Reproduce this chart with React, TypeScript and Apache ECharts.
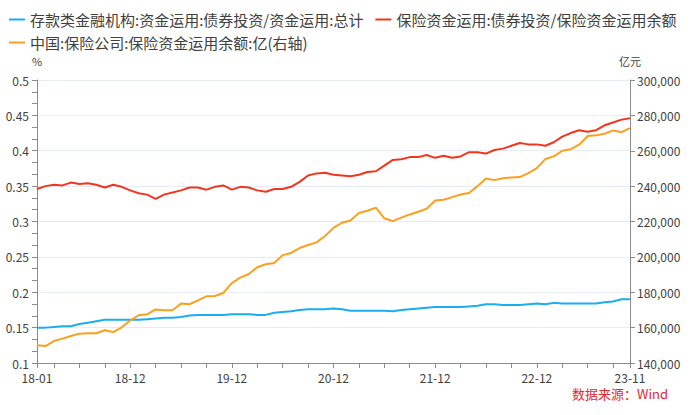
import { useEffect, useRef } from 'react'
import * as echarts from 'echarts'

// 月份类目 18-01 ~ 23-11
const months: string[] = []
for (let y = 18; y <= 23; y++) {
  for (let m = 1; m <= 12; m++) {
    if (y === 23 && m > 11) break
    months.push(`${y}-${String(m).padStart(2, '0')}`)
  }
}

const labelIndexes = [0, 11, 23, 35, 47, 59, 70]

const seriesNames = [
  '存款类金融机构:资金运用:债券投资/资金运用:总计',
  '保险资金运用:债券投资/保险资金运用余额',
  '中国:保险公司:保险资金运用余额:亿(右轴)'
]

// 存款类金融机构 债券投资占比 (%)
const depositBondRatio = [
  0.150, 0.150, 0.151, 0.152, 0.152, 0.155, 0.157, 0.159, 0.161, 0.161,
  0.161, 0.161, 0.161, 0.162, 0.163, 0.164, 0.164, 0.165, 0.167, 0.168,
  0.168, 0.168, 0.168, 0.169, 0.169, 0.169, 0.168, 0.168, 0.171, 0.172,
  0.173, 0.175, 0.176, 0.176, 0.176, 0.177, 0.176, 0.174, 0.174, 0.174,
  0.174, 0.174, 0.173, 0.175, 0.176, 0.177, 0.178, 0.179, 0.179, 0.179,
  0.179, 0.180, 0.181, 0.183, 0.183, 0.182, 0.182, 0.182, 0.183, 0.184,
  0.183, 0.185, 0.184, 0.184, 0.184, 0.184, 0.184, 0.186, 0.187, 0.190,
  0.190
]

// 保险资金 债券投资占比 (%)
const insuranceBondRatio = [
  0.346, 0.350, 0.352, 0.351, 0.355, 0.353, 0.354, 0.352, 0.348, 0.352,
  0.349, 0.344, 0.340, 0.338, 0.332, 0.338, 0.341, 0.344, 0.348, 0.348,
  0.345, 0.349, 0.351, 0.345, 0.349, 0.348, 0.344, 0.342, 0.346, 0.346,
  0.349, 0.356, 0.365, 0.368, 0.369, 0.366, 0.365, 0.364, 0.366, 0.370,
  0.371, 0.379, 0.387, 0.388, 0.391, 0.391, 0.394, 0.390, 0.393, 0.390,
  0.392, 0.398, 0.398, 0.396, 0.401, 0.403, 0.407, 0.411, 0.409, 0.409,
  0.407, 0.412, 0.420, 0.425, 0.429, 0.427, 0.429, 0.436, 0.440, 0.444,
  0.446
]

// 保险资金运用余额 (亿元, 右轴)
const insuranceBalance = [
  150000, 149600, 152400, 153800, 155300, 156600, 156800, 156800, 158500, 157500,
  160200, 164000, 167000, 167500, 170300, 169800, 169800, 173600, 173200, 175400,
  177700, 177900, 179600, 185200, 188300, 190300, 194100, 195800, 196500, 201000,
  202200, 205000, 206700, 208200, 211800, 216400, 219300, 220600, 224800, 226100,
  227800, 221800, 220200, 222200, 224000, 225500, 227200, 231900, 232300, 233800,
  235300, 236100, 240000, 244300, 243400, 244400, 244900, 245100, 247400, 250200,
  255300, 256800, 260000, 260900, 263400, 268300, 268700, 269600, 271500, 270500,
  272800
]

const colors = ['#1AAEF0', '#F2361E', '#FBA01D']
const font = '"Noto Sans CJK SC", "Noto Sans", sans-serif'
const axisColor = '#8c8c8c'
const textColor = '#404040'

function App(): JSX.Element {
  const chartRef = useRef<HTMLDivElement>(null)

  useEffect(() => {
    const myChart = echarts.init(chartRef.current, null, { renderer: 'svg' })

    const legendText = { fontSize: 15, color: textColor, fontFamily: font }

    const option: echarts.EChartsOption = {
      animation: false,
      color: colors,
      textStyle: { fontFamily: font },
      legend: [
        {
          data: [seriesNames[0], seriesNames[1]],
          left: 4,
          top: 7,
          icon: 'rect',
          itemWidth: 16,
          itemHeight: 2,
          itemGap: 12,
          textStyle: legendText
        },
        {
          data: [seriesNames[2]],
          left: 4,
          top: 30,
          icon: 'rect',
          itemWidth: 16,
          itemHeight: 2,
          textStyle: legendText
        }
      ],
      grid: { left: 37, right: 63, top: 80, bottom: 52 },
      xAxis: {
        type: 'category',
        data: months,
        boundaryGap: false,
        axisLine: { lineStyle: { color: axisColor } },
        axisTick: {
          length: 5,
          interval: (i: number) => i === 0 || i === 70 || i % 3 === 2,
          lineStyle: { color: axisColor }
        },
        axisLabel: {
          interval: (i: number) => labelIndexes.includes(i),
          color: textColor,
          fontSize: 12,
          margin: 8
        },
        splitLine: { show: false }
      },
      yAxis: [
        {
          type: 'value',
          name: '%',
          nameGap: 14,
          nameTextStyle: { color: textColor, fontSize: 11 },
          min: 0.1,
          max: 0.5,
          interval: 0.05,
          axisLine: { show: true, lineStyle: { color: axisColor } },
          axisTick: { show: true, length: 5, lineStyle: { color: axisColor } },
          minorTick: { show: true, splitNumber: 3, length: 5, lineStyle: { color: axisColor } },
          axisLabel: { color: textColor, fontSize: 12, margin: 8 },
          splitLine: { lineStyle: { color: '#e6ebf5', width: 1 } }
        },
        {
          type: 'value',
          name: '亿元',
          nameGap: 14,
          nameTextStyle: { color: textColor, fontSize: 11 },
          min: 140000,
          max: 300000,
          interval: 20000,
          axisLine: { show: true, lineStyle: { color: axisColor } },
          axisTick: { show: true, length: 5, lineStyle: { color: axisColor } },
          axisLabel: {
            color: textColor,
            fontSize: 12,
            margin: 7,
            formatter: (v: number) => v.toLocaleString('en-US')
          },
          splitLine: { show: false }
        }
      ],
      graphic: [
        {
          type: 'text',
          right: 25,
          top: 387,
          style: {
            text: '数据来源：Wind',
            fill: '#E8262D',
            fontSize: 13,
            fontFamily: font
          }
        }
      ],
      series: [
        {
          name: seriesNames[0],
          type: 'line',
          yAxisIndex: 0,
          data: depositBondRatio,
          showSymbol: false,
          lineStyle: { width: 2 }
        },
        {
          name: seriesNames[1],
          type: 'line',
          yAxisIndex: 0,
          data: insuranceBondRatio,
          showSymbol: false,
          lineStyle: { width: 2 }
        },
        {
          name: seriesNames[2],
          type: 'line',
          yAxisIndex: 1,
          data: insuranceBalance,
          showSymbol: false,
          lineStyle: { width: 2 }
        }
      ]
    }

    myChart.setOption(option)

    return () => {
      myChart.dispose()
    }
  }, [])

  return (
    <div
      ref={chartRef}
      style={{ position: 'absolute', left: 0, top: 0, width: '693px', height: '415px' }}
    ></div>
  )
}

export default App
